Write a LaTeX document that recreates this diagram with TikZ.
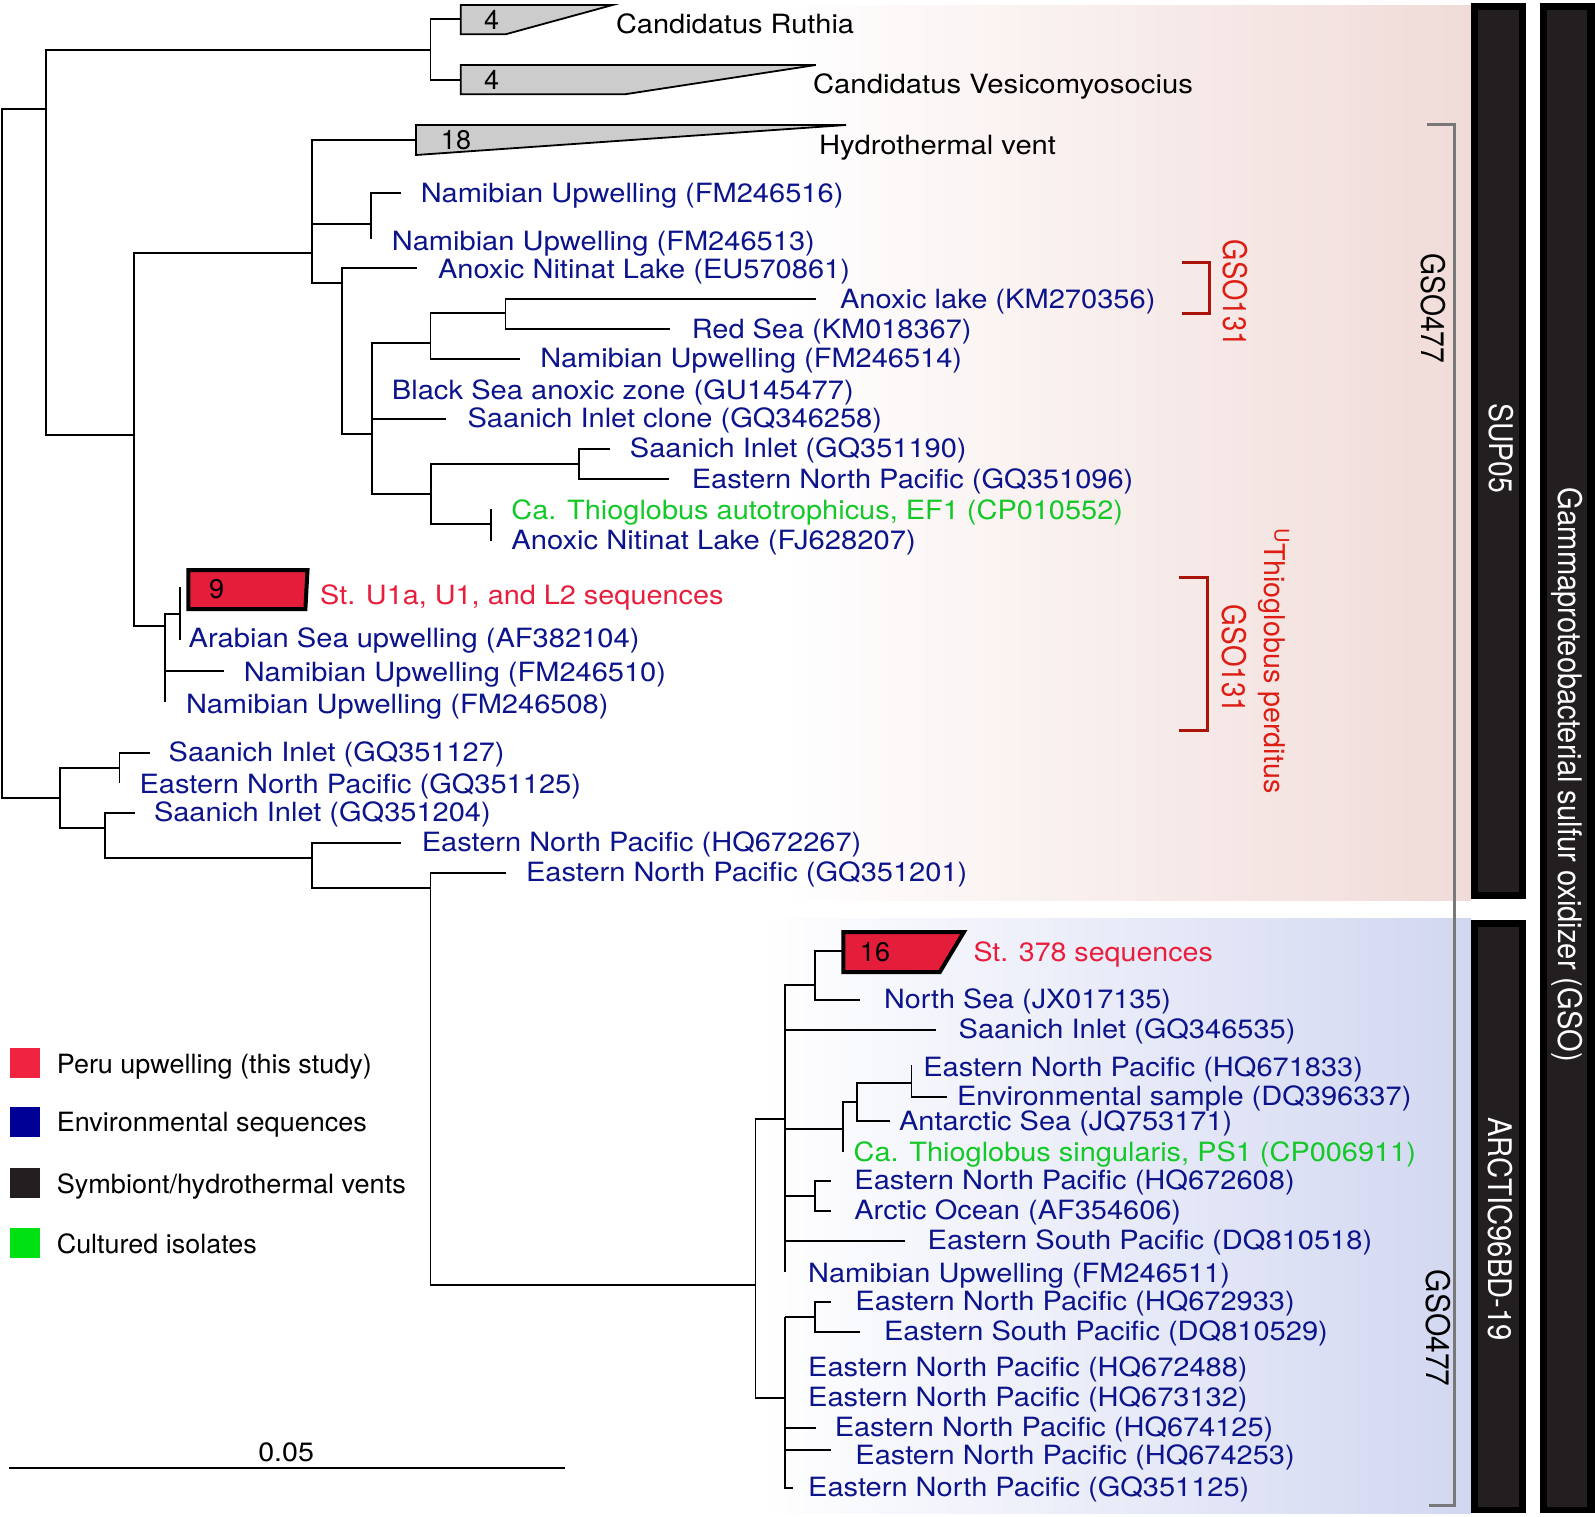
\documentclass[tikz,border=0pt]{standalone}
\usepackage{fontspec}
\setmainfont{TeX Gyre Heros}
\usepackage{graphicx}
\definecolor{bluetxt}{RGB}{12,20,140}
\definecolor{greentxt}{RGB}{20,200,40}
\definecolor{redtxt}{RGB}{232,30,60}
\definecolor{grayfill}{RGB}{204,204,204}
\definecolor{boxred}{RGB}{228,30,58}
\definecolor{pinkbg}{RGB}{240,219,216}
\definecolor{bluebg}{RGB}{210,215,241}
\definecolor{barfill}{RGB}{35,31,32}
\definecolor{redlab}{RGB}{222,30,20}
\definecolor{redbrk}{RGB}{170,20,10}
\definecolor{lgred}{RGB}{240,35,65}
\definecolor{lgblue}{RGB}{0,0,150}
\definecolor{lggreen}{RGB}{0,225,20}
\definecolor{brgray}{RGB}{120,120,120}
\newcommand{\leaf}[6]{\node[lbl,text=#5] (#1) at (#2,#3) {\resizebox{#4pt}{\height}{#6}};}
\newcommand{\vlab}[7]{\node[rlbl,text=#6] (#1) at (#2,#3) {\resizebox{#4pt}{#5\height}{#7}};}
\begin{document}
\begin{tikzpicture}[x=1pt,y=-1pt,
  br/.style={line width=1.8pt,line join=miter},
  lbl/.style={anchor=base west,inner sep=0pt,outer sep=0pt,yshift=-9.6pt,font=\fontsize{26.5}{30}\selectfont},
  rlbl/.style={rotate=-90,anchor=base,inner sep=0pt,outer sep=0pt,font=\fontsize{26}{30}\selectfont},
  num/.style={inner sep=0pt,font=\fontsize{27}{30}\selectfont},
  clade/.style={fill=grayfill,draw=black,line width=1.8pt,line join=miter},
  redclade/.style={fill=boxred,draw=black,line width=4pt,line join=miter},
  lgsq/.style={inner sep=0pt,minimum size=30pt},
  redbr/.style={draw=redbrk,line width=3pt,line join=miter},
  graybr/.style={draw=brgray,line width=3pt,line join=miter}]
\useasboundingbox (0,0) rectangle (1595,1516);
\fill[white] (0,0) rectangle (1595,1516);
% backgrounds
\shade[left color=white,right color=pinkbg] (780,5) rectangle (1471,900);
\shade[left color=white,right color=bluebg] (760,918) rectangle (1471,1513);
% side bars
\fill[black] (1471,3) rectangle (1525.7,899);
\fill[barfill] (1478,10) rectangle (1519,892);
\fill[black] (1471,920) rectangle (1525.7,1513.3);
\fill[barfill] (1478,926.7) rectangle (1519,1506.7);
\fill[black] (1540.4,3) rectangle (1595,1513.3);
\fill[barfill] (1547,10) rectangle (1587,1506.7);
% gray bracket
\draw[graybr] (1426.8,124) -- (1454,124) -- (1454,1505) -- (1428.5,1505);
% red brackets
\draw[redbr] (1182,262) -- (1209.4,262) -- (1209.4,313) -- (1182,313);
\draw[redbr] (1179.4,577) -- (1207.4,577) -- (1207.4,730.7) -- (1179.4,730.7);
% collapsed clades
\draw[clade] (460.7,5) -- (612.6,5) -- (505.5,34.3) -- (460.7,34.3) -- cycle;
\draw[clade] (460.7,65) -- (815.8,65) -- (624.7,94.3) -- (460.7,94.3) -- cycle;
\draw[clade] (416,125) -- (846,125) -- (416,155) -- cycle;
\draw[redclade] (188.4,570) -- (307.5,570) -- (305.4,609) -- (188.4,609) -- cycle;
\draw[redclade] (843.4,932) -- (963.9,932) -- (939.8,972) -- (843.4,972) -- cycle;
\node[num] (n1) at (491.5,20) {4};
\node[num] (n2) at (491.5,80) {4};
\node[num] (n3) at (456,140) {18};
\node[num] (n4) at (216.6,589) {9};
\node[num] (n5) at (875,952) {16};
% tree branches
\draw[br] (45.8,109) -- (2,109) -- (2,798) -- (60.3,798);
\draw[br] (430.4,50) -- (45.8,50) -- (45.8,435) -- (134.3,435);
\draw[br] (460.7,19) -- (430.4,19) -- (430.4,80) -- (460.7,80);
\draw[br] (312.3,253) -- (134.3,253) -- (134.3,626) -- (164.6,626);
\draw[br] (416,140) -- (312.3,140) -- (312.3,283) -- (342,283);
\draw[br] (312.3,224) -- (371.2,224);
\draw[br] (401.2,193) -- (371.2,193) -- (371.2,239);
\draw[br] (416.7,268) -- (342,268) -- (342,434) -- (371.9,434);
\draw[br] (430.4,343) -- (371.9,343) -- (371.9,494) -- (431,494);
\draw[br] (371.9,419) -- (446,419);
\draw[br] (505.5,313) -- (430.4,313) -- (430.4,359) -- (520,359);
\draw[br] (815.8,299) -- (505.5,299) -- (505.5,329) -- (669.5,329);
\draw[br] (579.2,464) -- (431,464) -- (431,524) -- (490.7,524);
\draw[br] (609.9,449) -- (579.2,449) -- (579.2,479) -- (668.8,479);
\draw[br] (490.7,509) -- (490.7,541);
\draw[br] (179.8,614) -- (164.6,614) -- (164.6,702);
\draw[br] (164.6,671) -- (223.8,671);
\draw[br] (179.8,587) -- (179.8,640);
\draw[br] (119.5,768) -- (60.3,768) -- (60.3,828) -- (105,828);
\draw[br] (149.8,753) -- (119.5,753) -- (119.5,783);
\draw[br] (135,813) -- (105,813) -- (105,858) -- (311.6,858);
\draw[br] (401.2,843) -- (311.6,843) -- (311.6,888) -- (430.4,888);
\draw[br] (505.5,873) -- (430.4,873) -- (430.4,1285) -- (755.5,1285);
\draw[br] (785,1119) -- (755.5,1119) -- (755.5,1398) -- (785,1398);
\draw[br] (815.1,985) -- (785,985) -- (785,1272);
\draw[br] (785,1030) -- (935.6,1030);
\draw[br] (785,1129) -- (842.7,1129);
\draw[br] (785,1196) -- (815.1,1196);
\draw[br] (785,1241) -- (904.7,1241);
\draw[br] (843.4,951) -- (815.1,951) -- (815.1,1000) -- (859.9,1000);
\draw[br] (857.1,1102) -- (842.7,1102) -- (842.7,1152);
\draw[br] (911.5,1083) -- (857.1,1083) -- (857.1,1121) -- (889.9,1121);
\draw[br] (911.5,1065) -- (911.5,1097) -- (946.7,1097);
\draw[br] (830.6,1181) -- (815.1,1181) -- (815.1,1211) -- (830.6,1211);
\draw[br] (785,1317) -- (785,1488) -- (793.4,1488);
\draw[br] (785,1317) -- (815.1,1317);
\draw[br] (785,1428) -- (815.8,1428);
\draw[br] (785,1450) -- (830.6,1450);
\draw[br] (830.6,1302) -- (815.1,1302) -- (815.1,1332) -- (859.9,1332);
% leaf labels
\leaf{l1}{616}{24}{238}{black}{Candidatus Ruthia}
\leaf{l2}{813}{84}{380}{black}{Candidatus Vesicomyosocius}
\leaf{l3}{819}{145}{237}{black}{Hydrothermal vent}
\leaf{l4}{420.8}{192.5}{422.6}{bluetxt}{Namibian Upwelling (FM246516)}
\leaf{l5}{391.9}{241}{423}{bluetxt}{Namibian Upwelling (FM246513)}
\leaf{l6}{438}{269}{412}{bluetxt}{Anoxic Nitinat Lake (EU570861)}
\leaf{l7}{840}{299}{315.5}{bluetxt}{Anoxic lake (KM270356)}
\leaf{l8}{691.8}{329}{279.7}{bluetxt}{Red Sea (KM018367)}
\leaf{l9}{540.3}{358}{421.7}{bluetxt}{Namibian Upwelling (FM246514)}
\leaf{l10}{391.9}{390}{461.8}{bluetxt}{Black Sea anoxic zone (GU145477)}
\leaf{l11}{467.6}{418}{414.4}{bluetxt}{Saanich Inlet clone (GQ346258)}
\leaf{l12}{629.9}{448}{336.7}{bluetxt}{Saanich Inlet (GQ351190)}
\leaf{l13}{691.8}{479}{441.6}{bluetxt}{Eastern North Pacific (GQ351096)}
\leaf{l14}{511.4}{510}{611.6}{greentxt}{Ca. Thioglobus autotrophicus, EF1 (CP010552)}
\leaf{l15}{511.4}{540}{404.3}{bluetxt}{Anoxic Nitinat Lake (FJ628207)}
\leaf{l16}{320.2}{595}{403.3}{redtxt}{St. U1a, U1, and L2 sequences}
\leaf{l17}{188.7}{638}{450.8}{bluetxt}{Arabian Sea upwelling (AF382104)}
\leaf{l18}{243.8}{672}{422.2}{bluetxt}{Namibian Upwelling (FM246510)}
\leaf{l19}{186}{704}{422.5}{bluetxt}{Namibian Upwelling (FM246508)}
\leaf{l20}{168.7}{752}{335.8}{bluetxt}{Saanich Inlet (GQ351127)}
\leaf{l21}{139.5}{784}{441.5}{bluetxt}{Eastern North Pacific (GQ351125)}
\leaf{l22}{154}{812}{336.7}{bluetxt}{Saanich Inlet (GQ351204)}
\leaf{l23}{421.8}{842}{439.5}{bluetxt}{Eastern North Pacific (HQ672267)}
\leaf{l24}{526}{872}{441.3}{bluetxt}{Eastern North Pacific (GQ351201)}
\leaf{l25}{973.5}{952}{239.3}{redtxt}{St. 378 sequences}
\leaf{l26}{884}{999}{286.9}{bluetxt}{North Sea (JX017135)}
\leaf{l27}{958.7}{1029}{336.7}{bluetxt}{Saanich Inlet (GQ346535)}
\leaf{l28}{923.3}{1067}{439.7}{bluetxt}{Eastern North Pacific (HQ671833)}
\leaf{l29}{957}{1096}{454.4}{bluetxt}{Environmental sample (DQ396337)}
\leaf{l30}{899.1}{1121}{333.2}{bluetxt}{Antarctic Sea (JQ753171)}
\leaf{l31}{853.7}{1152}{562.2}{greentxt}{Ca. Thioglobus singularis, PS1 (CP006911)}
\leaf{l32}{854.4}{1180}{440.3}{bluetxt}{Eastern North Pacific (HQ672608)}
\leaf{l33}{854.4}{1210}{326.7}{bluetxt}{Arctic Ocean (AF354606)}
\leaf{l34}{927.7}{1240}{444.5}{bluetxt}{Eastern South Pacific (DQ810518)}
\leaf{l35}{808.2}{1273}{421.7}{bluetxt}{Namibian Upwelling (FM246511)}
\leaf{l36}{855.4}{1301}{439.3}{bluetxt}{Eastern North Pacific (HQ672933)}
\leaf{l37}{884}{1331}{443.8}{bluetxt}{Eastern South Pacific (DQ810529)}
\leaf{l38}{808.2}{1367}{439.4}{bluetxt}{Eastern North Pacific (HQ672488)}
\leaf{l39}{808.2}{1397}{439.4}{bluetxt}{Eastern North Pacific (HQ673132)}
\leaf{l40}{834.8}{1427}{438.4}{bluetxt}{Eastern North Pacific (HQ674125)}
\leaf{l41}{855.4}{1455}{439.3}{bluetxt}{Eastern North Pacific (HQ674253)}
\leaf{l42}{808.2}{1487}{441.2}{bluetxt}{Eastern North Pacific (GQ351125)}
% rotated labels
\vlab{g477a}{1421.6}{308.3}{110}{1.25}{black}{GSO477}
\vlab{g477b}{1426.8}{1328.3}{116.7}{1.25}{black}{GSO477}
\vlab{g131a}{1223.8}{293.3}{106.7}{1.25}{redlab}{GSO131}
\vlab{g131b}{1222}{659}{108.3}{1.25}{redlab}{GSO131}
\vlab{tper}{1264.7}{660.7}{265.3}{1.1}{redlab}{\textsuperscript{U}Thioglobus perditus}
\vlab{sup}{1489}{448.3}{90}{1.25}{white}{SUP05}
\vlab{arc}{1488}{1229}{224}{1.25}{white}{ARCTIC96BD-19}
\vlab{gso}{1558}{775}{574}{1.25}{white}{Gammaproteobacterial sulfur oxidizer (GSO)}
% legend
\node[lgsq,fill=lgred] (s1) at (25.3,1063) {};
\node[lgsq,fill=lgblue] (s2) at (25.3,1122) {};
\node[lgsq,fill=barfill] (s3) at (25.3,1183) {};
\node[lgsq,fill=lggreen] (s4) at (25.3,1243) {};
\leaf{t1}{56.8}{1064}{315}{black}{Peru upwelling (this study)}
\leaf{t2}{56.8}{1122}{310}{black}{Environmental sequences}
\leaf{t3}{56.8}{1184}{349}{black}{Symbiont/hydrothermal vents}
\leaf{t4}{56.8}{1244}{200}{black}{Cultured isolates}
% scale bar
\coordinate (sbl) at (9.3,1468);
\coordinate (sbr) at (564.5,1468);
\draw[line width=1.8pt] (sbl) -- (sbr);
\leaf{sbt}{258.3}{1452}{55.7}{black}{0.05}
\end{tikzpicture}
\end{document}
